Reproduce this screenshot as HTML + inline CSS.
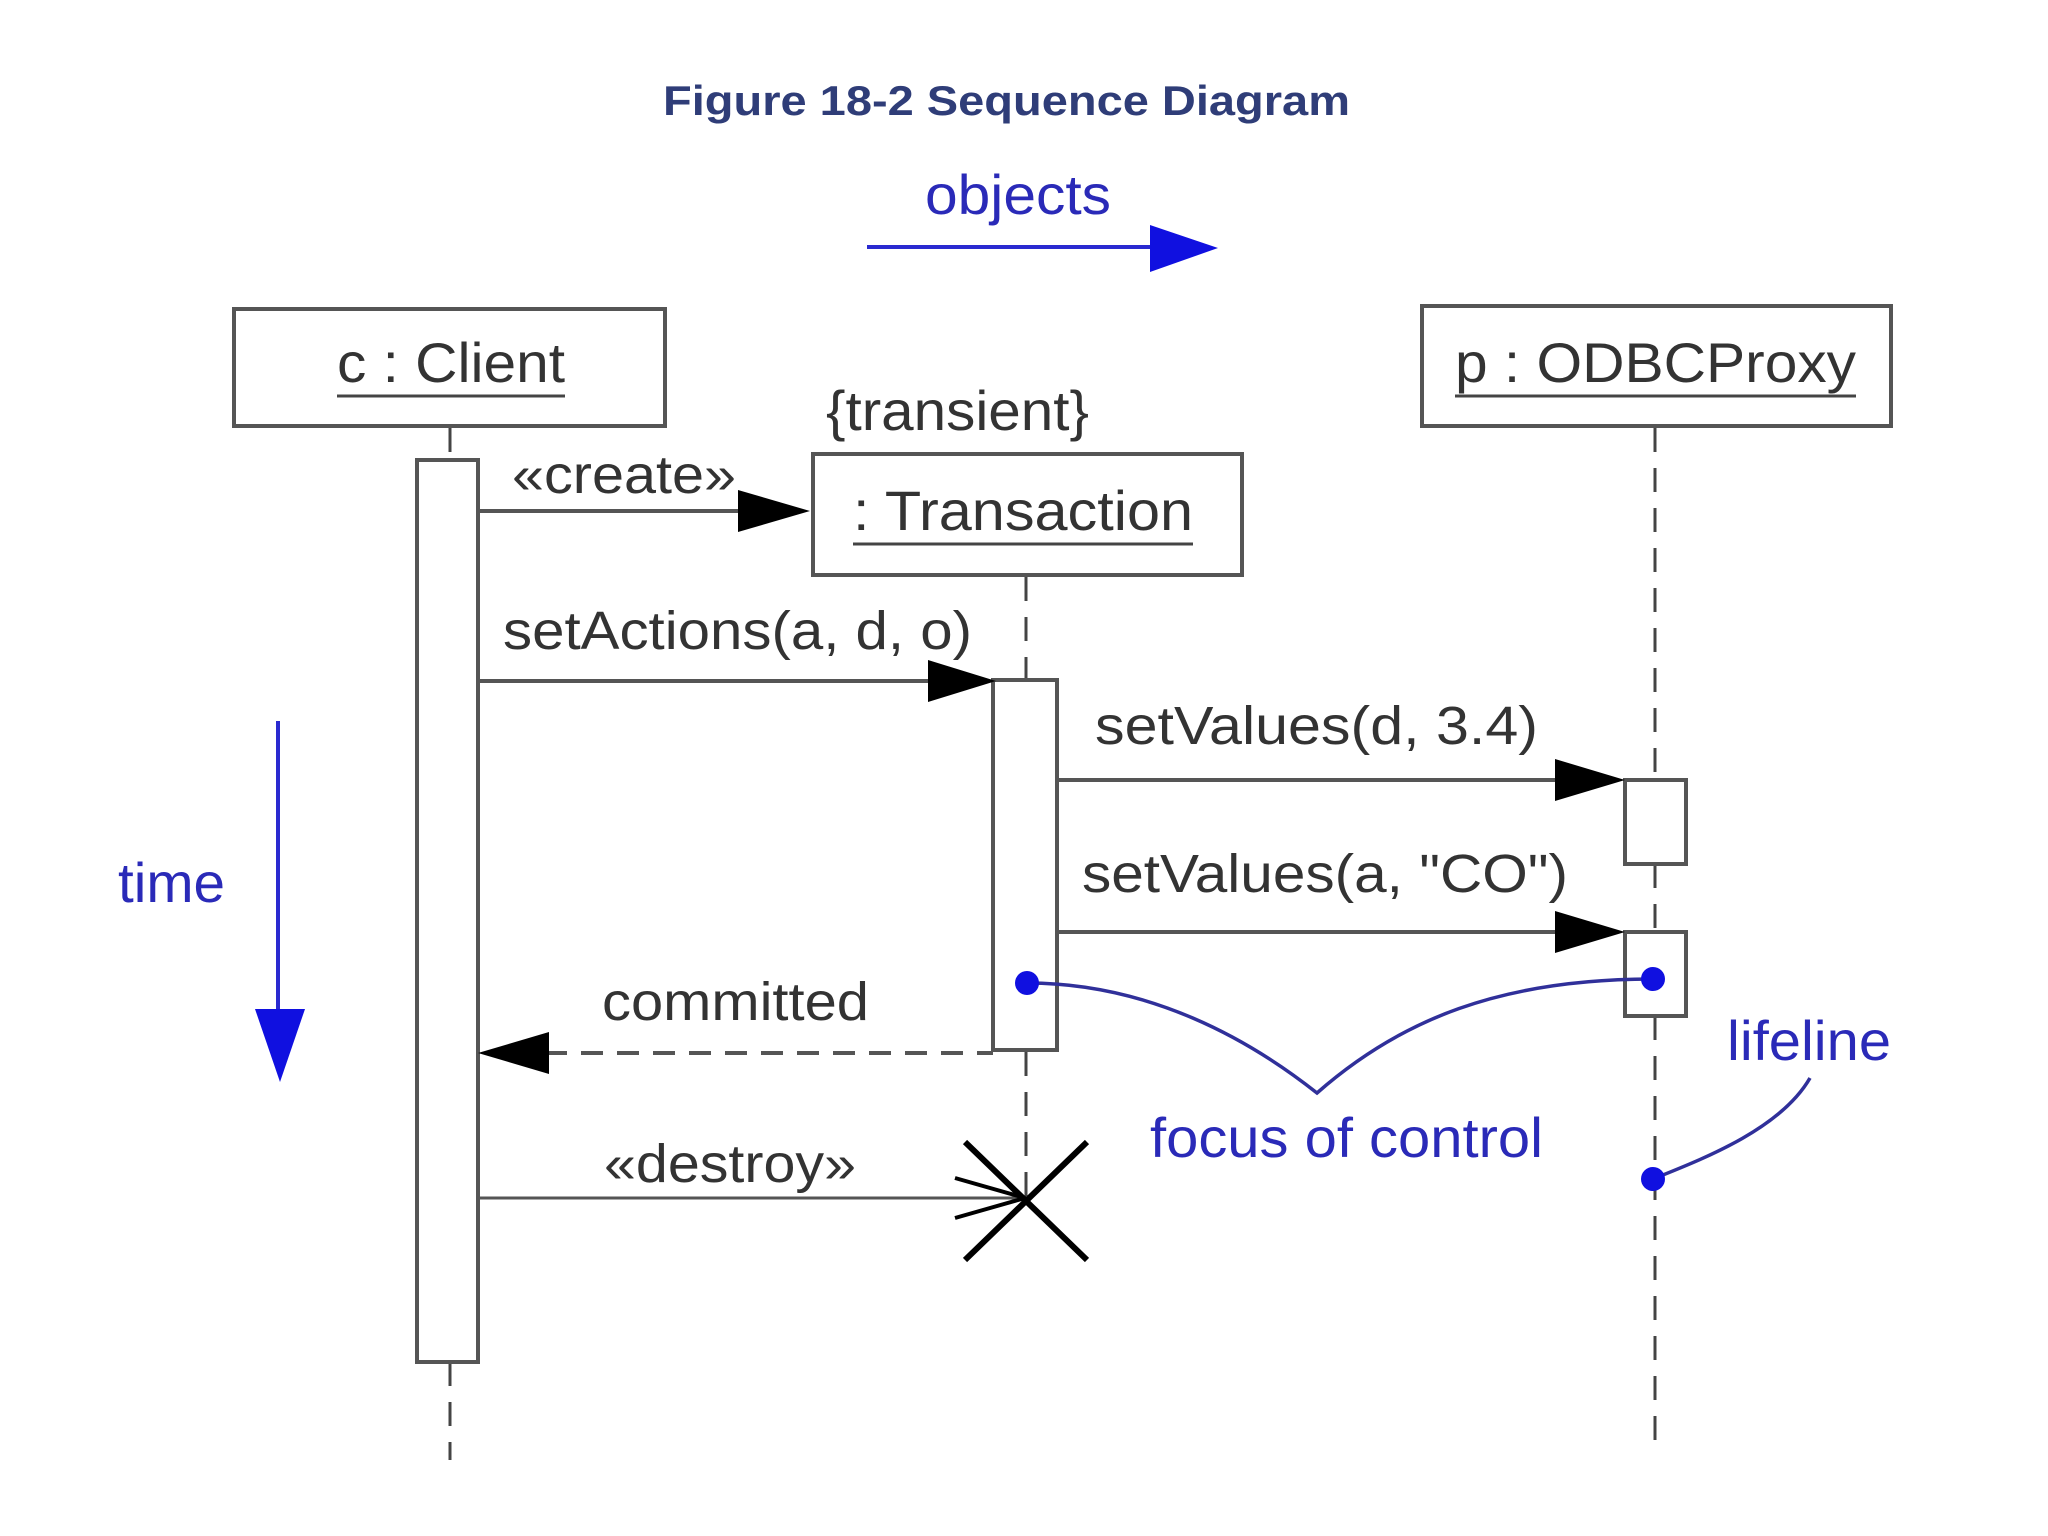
<!DOCTYPE html>
<html><head><meta charset="utf-8"><style>html,body{margin:0;padding:0;background:#fff}svg{display:block}</style></head>
<body>
<svg width="2048" height="1536" viewBox="0 0 2048 1536" xmlns="http://www.w3.org/2000/svg" font-family="'Liberation Sans', sans-serif">
<rect width="2048" height="1536" fill="#fff"/>
<text x="663" y="115" font-size="42" font-weight="bold" fill="#2f3d78" textLength="687" lengthAdjust="spacingAndGlyphs">Figure 18-2 Sequence Diagram</text>
<text x="925" y="214" font-size="56" fill="#2a2ab8" textLength="186" lengthAdjust="spacingAndGlyphs">objects</text>
<line x1="867" y1="247" x2="1155" y2="247" stroke="#2a2ad0" stroke-width="4"/>
<polygon points="1150,225 1218,248 1150,272" fill="#1010e0"/>

<g stroke="#555" stroke-width="4" fill="none">
<rect x="234" y="309" width="431" height="117"/>
<rect x="1422" y="306" width="469" height="120"/>
<rect x="813" y="454" width="429" height="121"/>
</g>
<g fill="#333" font-size="56">
<text x="337" y="382" textLength="228" lengthAdjust="spacingAndGlyphs">c : Client</text>
<text x="1455" y="382" textLength="401" lengthAdjust="spacingAndGlyphs">p : ODBCProxy</text>
<text x="853" y="530" textLength="340" lengthAdjust="spacingAndGlyphs">: Transaction</text>
<text x="826" y="430" textLength="263" lengthAdjust="spacingAndGlyphs">{transient}</text>
</g>
<g stroke="#444" stroke-width="3">
<line x1="337" y1="396" x2="565" y2="396"/>
<line x1="1455" y1="396" x2="1856" y2="396"/>
<line x1="853" y1="544" x2="1193" y2="544"/>
</g>
<g stroke="#444" stroke-width="3" stroke-dasharray="24,16" fill="none">
<line x1="450" y1="428" x2="450" y2="460"/>
<line x1="450" y1="1362" x2="450" y2="1460"/>
<line x1="1026" y1="577" x2="1026" y2="680"/>
<line x1="1026" y1="1052" x2="1026" y2="1200"/>
<line x1="1655" y1="428" x2="1655" y2="780"/>
<line x1="1655" y1="864" x2="1655" y2="932"/>
<line x1="1655" y1="1016" x2="1655" y2="1455"/>
</g>
<g stroke="#555" stroke-width="4" fill="#fff">
<rect x="417" y="460" width="61" height="902"/>
<rect x="993" y="680" width="64" height="370"/>
<rect x="1625" y="780" width="61" height="84"/>
<rect x="1625" y="932" width="61" height="84"/>
</g>
<g stroke="#555" stroke-width="4">
<line x1="478" y1="511" x2="745" y2="511"/>
<line x1="478" y1="681" x2="935" y2="681"/>
<line x1="1057" y1="780" x2="1560" y2="780"/>
<line x1="1057" y1="932" x2="1560" y2="932"/>
<line x1="545" y1="1053" x2="993" y2="1053" stroke-dasharray="22,14"/>
<line x1="478" y1="1198" x2="1025" y2="1198" stroke-width="3"/>
</g>
<g fill="#000">
<polygon points="738,490 810,511 738,532"/>
<polygon points="928,660 996,681 928,702"/>
<polygon points="1555,759 1625,780 1555,801"/>
<polygon points="1555,911 1625,932 1555,953"/>
<polygon points="549,1032 478,1053 549,1074"/>
</g>
<g stroke="#000" stroke-width="6" fill="none">
<line x1="965" y1="1142" x2="1087" y2="1260"/>
<line x1="1087" y1="1142" x2="965" y2="1260"/>
<polyline points="955,1178 1025,1198 955,1218" stroke-width="4"/>
</g>
<g fill="#333" font-size="54">
<text x="512" y="493" textLength="224" lengthAdjust="spacingAndGlyphs">«create»</text>
<text x="503" y="649" textLength="469" lengthAdjust="spacingAndGlyphs">setActions(a, d, o)</text>
<text x="1095" y="744" textLength="443" lengthAdjust="spacingAndGlyphs">setValues(d, 3.4)</text>
<text x="1082" y="892" textLength="486" lengthAdjust="spacingAndGlyphs">setValues(a, "CO")</text>
<text x="602" y="1020" textLength="267" lengthAdjust="spacingAndGlyphs">committed</text>
<text x="604" y="1182" textLength="252" lengthAdjust="spacingAndGlyphs">«destroy»</text>
</g>
<g fill="#2a2ab8" font-size="56">
<text x="118" y="902" textLength="107" lengthAdjust="spacingAndGlyphs">time</text>
<text x="1727" y="1060" textLength="164" lengthAdjust="spacingAndGlyphs">lifeline</text>
<text x="1150" y="1157" textLength="393" lengthAdjust="spacingAndGlyphs">focus of control</text>
</g>
<line x1="278" y1="721" x2="278" y2="1015" stroke="#2a2ad0" stroke-width="4"/>
<polygon points="255,1009 305,1009 280,1082" fill="#1010e0"/>
<g stroke="#30309a" stroke-width="3.5" fill="none">
<path d="M1027,983 C1150,983 1250,1040 1317,1093 C1400,1020 1500,979 1653,979"/>
<path d="M1810,1078 C1780,1130 1700,1160 1653,1179"/>
</g>
<g fill="#1010e0">
<circle cx="1027" cy="983" r="12"/>
<circle cx="1653" cy="979" r="12"/>
<circle cx="1653" cy="1179" r="12"/>
</g>
</svg>
</body></html>
